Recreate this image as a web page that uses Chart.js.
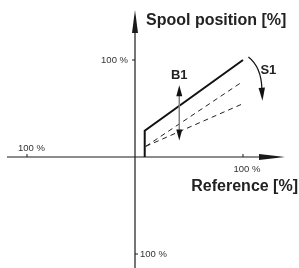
<!DOCTYPE html>
<html>
<head>
<meta charset="utf-8">
<script src="https://cdn.jsdelivr.net/npm/chart.js@4"></script>
<style>
body{margin:0;background:#fff;}
#wrap{width:299px;height:268px;}
</style>
</head>
<body>
<div id="wrap"><canvas id="mycanvas" width="299" height="268"></canvas></div>
<script>
// characteristic curves (reference % -> spool position %)
var refSolid = [9, 9, 100];
var spoolSolid = [0, 27, 100];
var refDashed = [10, 100];
var spoolDashedHigh = [11, 78];
var spoolDashedLow = [11, 55];

// B1 arrow (offset range) and S1 arrow (slope)
var b1Ref = 41;
var b1Spool = [17, 74];
var s1Ref = [105, 118];
var s1Spool = [103, 58];

var tickLabel = '100 %';
var xTitle = 'Reference [%]';
var yTitle = 'Spool position [%]';

function pts(xs, ys) {
	var out = [];
	for (var i in xs) out.push({x: xs[i], y: ys[i]});
	return out;
}

function arrowHead(ctx, tx, ty, dx, dy, len, half) {
	var nx = -dy, ny = dx;
	ctx.beginPath();
	ctx.moveTo(tx, ty);
	ctx.lineTo(tx - dx * len + nx * half, ty - dy * len + ny * half);
	ctx.lineTo(tx - dx * len - nx * half, ty - dy * len - ny * half);
	ctx.closePath();
	ctx.fill();
}

var axesPlugin = {
	id: 'axes',
	beforeDatasetsDraw: function(chart) {
		var ctx = chart.ctx;
		var xs = chart.scales.x, ys = chart.scales.y;
		var x0 = xs.getPixelForValue(0), y0 = ys.getPixelForValue(0);
		var x100 = xs.getPixelForValue(100), xm100 = xs.getPixelForValue(-100);
		var y100 = ys.getPixelForValue(100), ym100 = ys.getPixelForValue(-100);
		ctx.save();
		ctx.strokeStyle = '#1a1a1a';
		ctx.fillStyle = '#1a1a1a';
		ctx.lineWidth = 1.2;
		// x axis
		ctx.beginPath();
		ctx.moveTo(7, y0);
		ctx.lineTo(262, y0);
		ctx.stroke();
		arrowHead(ctx, 285, y0, 1, 0, 26, 3);
		// y axis
		ctx.beginPath();
		ctx.moveTo(x0, chart.height);
		ctx.lineTo(x0, 30);
		ctx.stroke();
		arrowHead(ctx, x0, 10, 0, -1, 23, 3);
		// ticks
		ctx.lineWidth = 1;
		ctx.beginPath();
		ctx.moveTo(xm100, y0); ctx.lineTo(xm100, y0 - 3);
		ctx.moveTo(x100, y0); ctx.lineTo(x100, y0 - 3);
		ctx.moveTo(x0, y100); ctx.lineTo(x0 - 3, y100);
		ctx.moveTo(x0, ym100); ctx.lineTo(x0 + 3, ym100);
		ctx.stroke();
		// tick labels
		ctx.fillStyle = '#333';
		ctx.font = '9.5px "Liberation Sans", Arial, sans-serif';
		ctx.textBaseline = 'middle';
		ctx.textAlign = 'right';
		ctx.fillText(tickLabel, x0 - 7, y100);
		ctx.textAlign = 'left';
		ctx.fillText(tickLabel, xm100 - 9, y0 - 9);
		ctx.fillText(tickLabel, x0 + 5, ym100);
		ctx.textAlign = 'center';
		ctx.fillText(tickLabel, x100 + 4, y0 + 12);
		// axis titles
		ctx.fillStyle = '#222';
		ctx.font = 'bold 16px "Liberation Sans", Arial, sans-serif';
		ctx.textAlign = 'left';
		ctx.fillText(yTitle, x0 + 11, 21);
		ctx.textAlign = 'right';
		ctx.fillText(xTitle, 298, y0 + 30);
		ctx.restore();
	},
	afterDatasetsDraw: function(chart) {
		var ctx = chart.ctx;
		var xs = chart.scales.x, ys = chart.scales.y;
		ctx.save();
		// B1 double arrow
		var bx = xs.getPixelForValue(b1Ref);
		var bLo = ys.getPixelForValue(b1Spool[0]), bHi = ys.getPixelForValue(b1Spool[1]);
		ctx.strokeStyle = '#808080';
		ctx.lineWidth = 1.5;
		ctx.beginPath();
		ctx.moveTo(bx, bHi + 8);
		ctx.lineTo(bx, bLo - 8);
		ctx.stroke();
		ctx.fillStyle = '#111';
		arrowHead(ctx, bx, bHi, 0, -1, 11, 3);
		arrowHead(ctx, bx, bLo, 0, 1, 11, 3);
		// S1 curved arrow
		var sx0 = xs.getPixelForValue(s1Ref[0]), sy0 = ys.getPixelForValue(s1Spool[0]);
		var sx1 = xs.getPixelForValue(s1Ref[1]), sy1 = ys.getPixelForValue(s1Spool[1]);
		ctx.strokeStyle = '#111';
		ctx.lineWidth = 1.2;
		ctx.beginPath();
		ctx.moveTo(sx0, sy0);
		ctx.quadraticCurveTo(sx1 - 1, sy0 + 10, sx1 - 0.5, sy1 - 11);
		ctx.stroke();
		arrowHead(ctx, sx1, sy1, 0.05, 1, 13, 3.2);
		// labels
		ctx.fillStyle = '#222';
		ctx.font = 'bold 13px "Liberation Sans", Arial, sans-serif';
		ctx.textBaseline = 'middle';
		ctx.textAlign = 'center';
		ctx.fillText('B1', bx, bHi - 10);
		ctx.textAlign = 'left';
		ctx.fillText('S1', sx0 + 12, sy0 + 13);
		ctx.restore();
	}
};

var ctx = document.getElementById('mycanvas');

var chart = new Chart(ctx, {
	type: 'scatter',
	data: {
		datasets: [
			{
				data: pts(refSolid, spoolSolid),
				showLine: true,
				borderColor: '#111',
				borderWidth: 2,
				pointRadius: 0,
				tension: 0
			},
			{
				data: pts(refDashed, spoolDashedHigh),
				showLine: true,
				borderColor: '#222',
				borderWidth: 1,
				borderDash: [5, 4],
				pointRadius: 0
			},
			{
				data: pts(refDashed, spoolDashedLow),
				showLine: true,
				borderColor: '#222',
				borderWidth: 1,
				borderDash: [5, 4],
				pointRadius: 0
			}
		]
	},
	options: {
		responsive: false,
		animation: false,
		layout: { padding: 0 },
		plugins: { legend: { display: false }, tooltip: { enabled: false } },
		scales: {
			x: { type: 'linear', display: false, min: -125, max: 151.85 },
			y: { type: 'linear', display: false, min: -114.43, max: 161.86 }
		}
	},
	plugins: [axesPlugin]
});
</script>
</body>
</html>
